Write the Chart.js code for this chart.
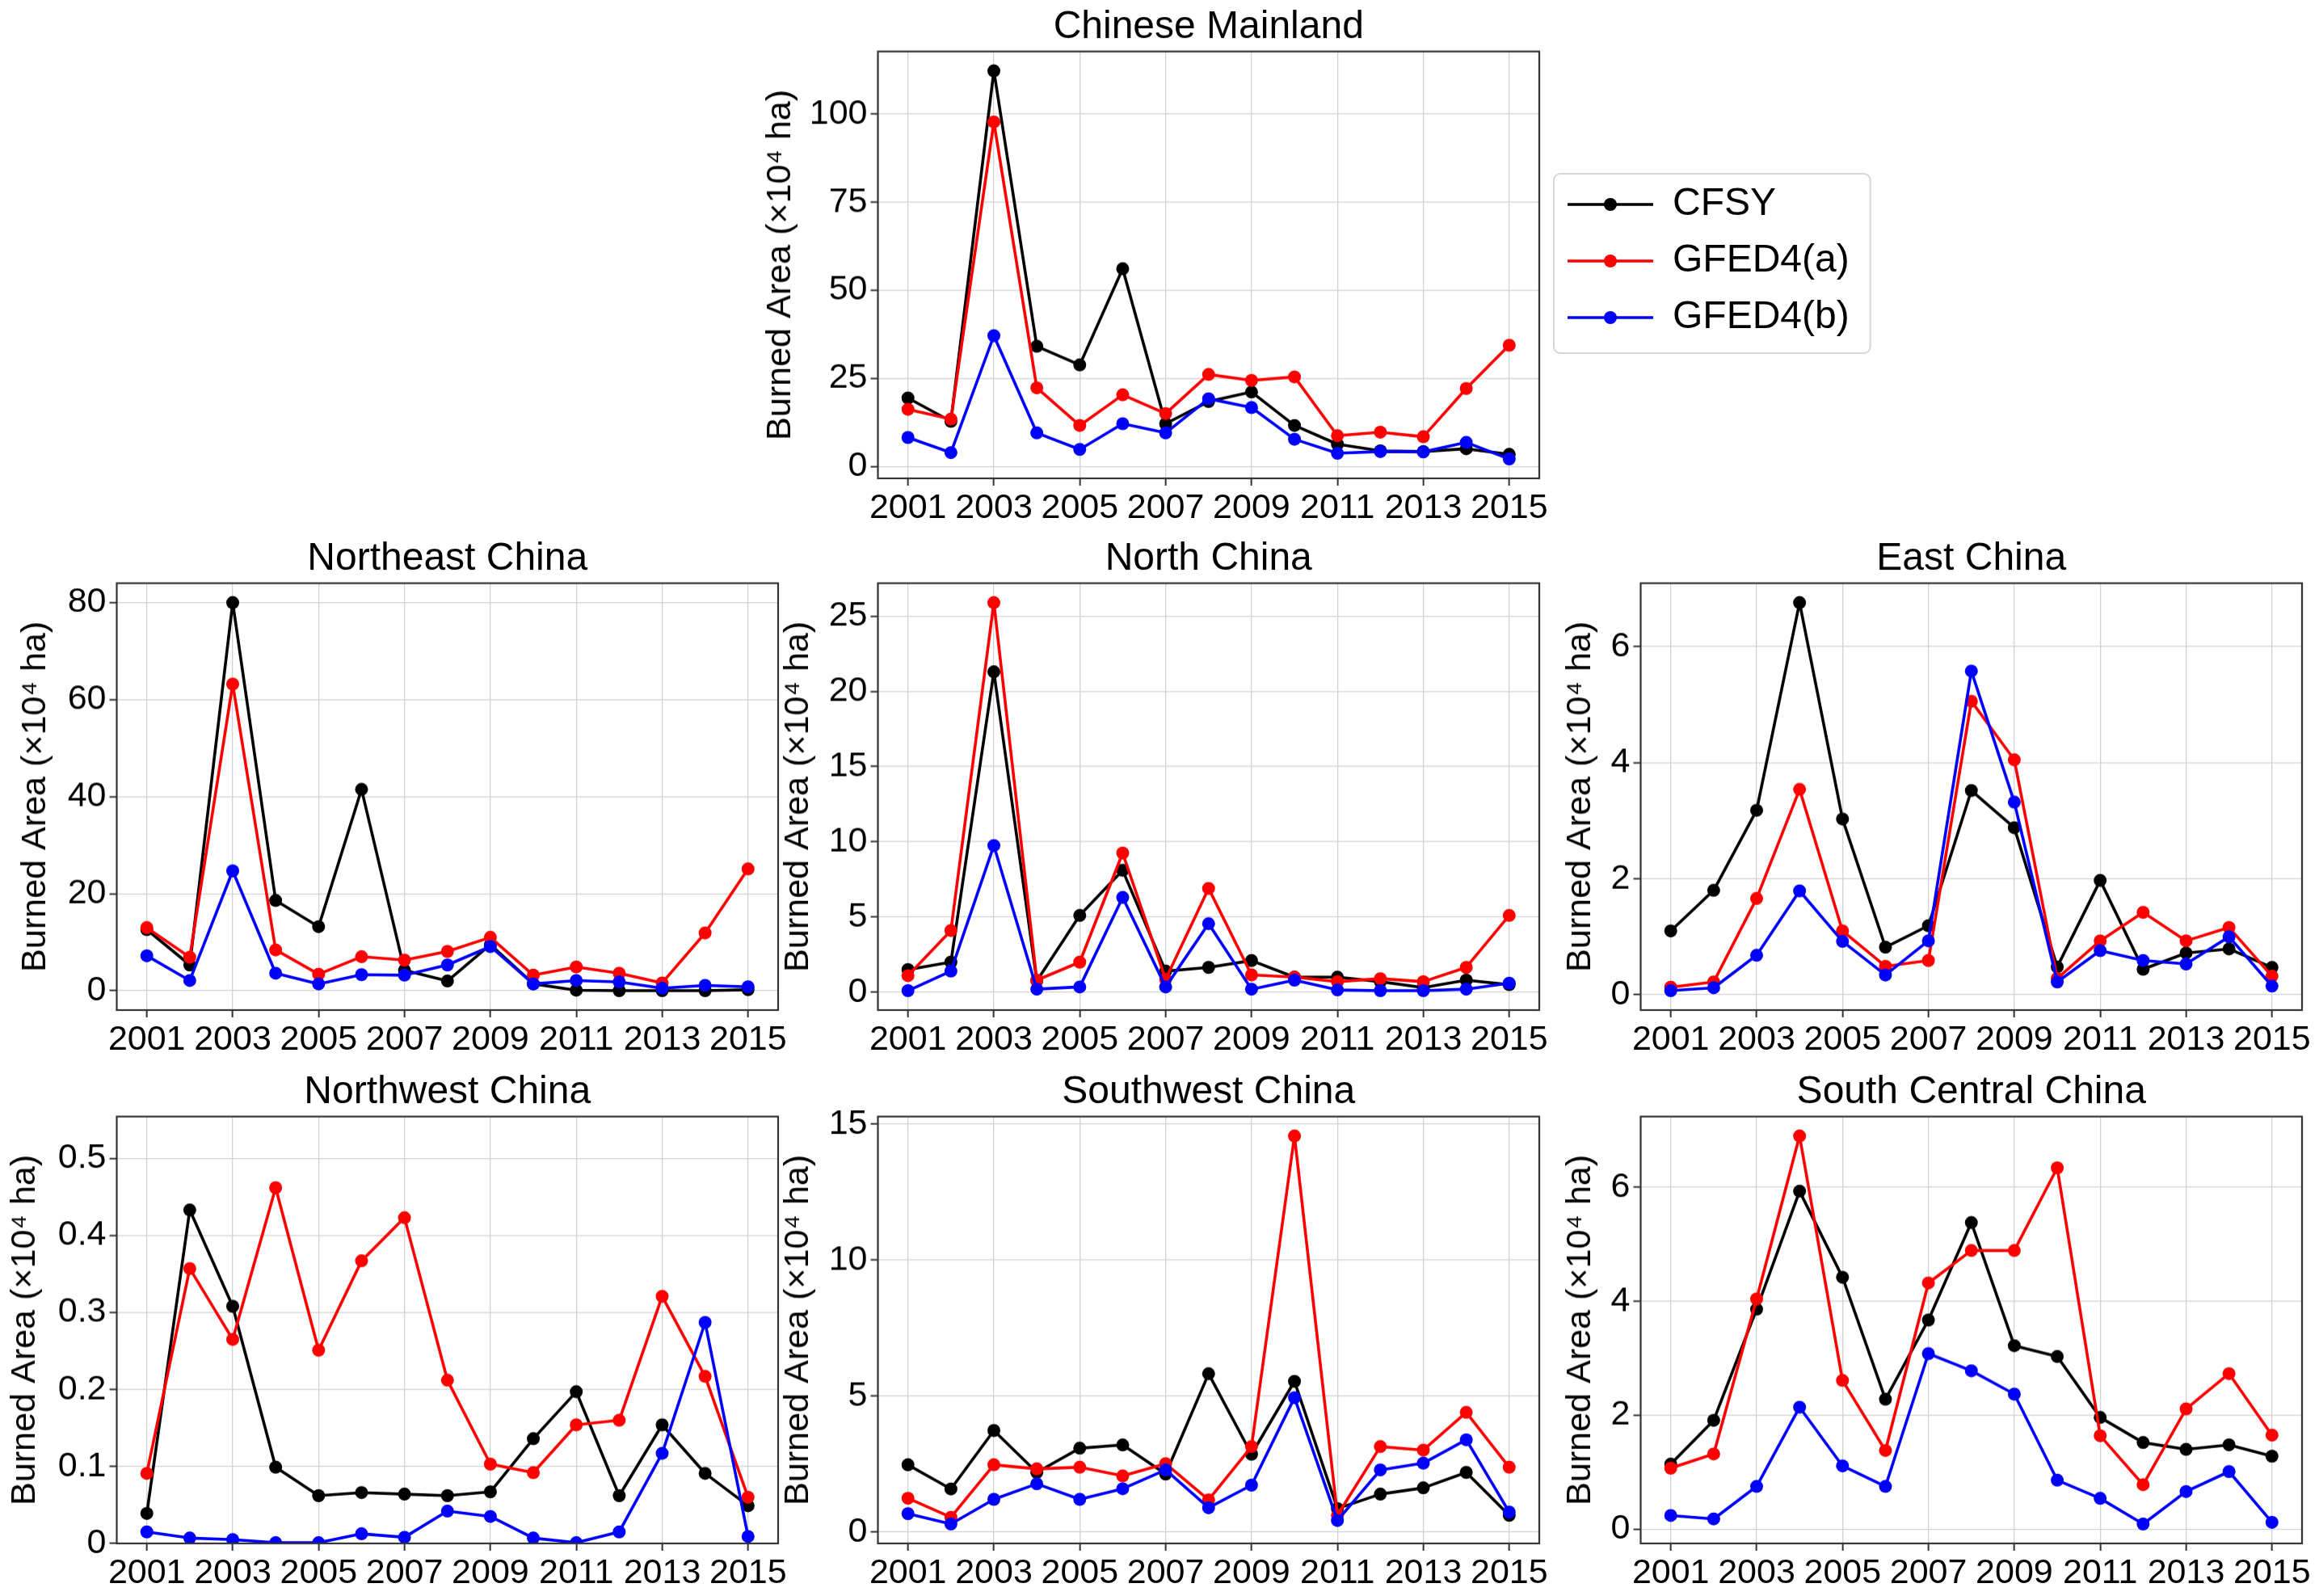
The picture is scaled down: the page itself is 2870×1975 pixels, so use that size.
<!DOCTYPE html>
<html>
<head>
<meta charset="utf-8">
<script src="https://cdn.jsdelivr.net/npm/chart.js@4.4.1/dist/chart.umd.min.js"></script>
<style>
  html, body { margin: 0; padding: 0; background: #fff; }
  body { width: 2870px; height: 1975px; position: relative; overflow: hidden; }
  .panel { position: absolute; }
</style>
</head>
<body>
<script>
// ---- data (unit: x10^4 ha) ----
const years = [2001, 2002, 2003, 2004, 2005, 2006, 2007, 2008, 2009, 2010, 2011, 2012, 2013, 2014, 2015];
const xTickYears = [2001, 2003, 2005, 2007, 2009, 2011, 2013, 2015];
const seriesNames = ["CFSY", "GFED4(a)", "GFED4(b)"];

const mainlandCFSY  = [19.4, 12.8, 112.3, 34.1, 28.8, 56.1, 12.1, 18.4, 21.1, 11.6, 6.3, 4.4, 4.2, 5.0, 3.4];
const mainlandGFEDa = [16.2, 13.4, 97.8, 22.3, 11.6, 20.3, 15.0, 26.1, 24.4, 25.4, 8.7, 9.7, 8.4, 22.1, 34.4];
const mainlandGFEDb = [8.2, 3.9, 37.1, 9.5, 4.8, 12.1, 9.5, 19.2, 16.7, 7.7, 3.7, 4.2, 4.1, 6.8, 2.1];
const mainlandTicks = [0, 25, 50, 75, 100];

const northeastCFSY  = [12.6, 5.3, 80.0, 18.6, 13.2, 41.5, 4.2, 2.0, 9.5, 1.4, 0.1, 0.0, 0.0, 0.0, 0.2];
const northeastGFEDa = [13.0, 6.9, 63.2, 8.4, 3.4, 7.0, 6.3, 8.1, 11.0, 3.2, 4.9, 3.6, 1.6, 11.9, 25.1];
const northeastGFEDb = [7.2, 2.1, 24.7, 3.6, 1.4, 3.3, 3.2, 5.3, 9.1, 1.4, 2.1, 1.8, 0.5, 1.1, 0.8];
const northeastTicks = [0, 20, 40, 60, 80];

const northCFSY  = [1.5, 2.0, 21.3, 0.75, 5.1, 8.1, 1.4, 1.65, 2.1, 1.0, 1.0, 0.7, 0.3, 0.8, 0.5];
const northGFEDa = [1.1, 4.1, 25.9, 0.8, 2.0, 9.25, 0.85, 6.9, 1.15, 1.0, 0.7, 0.9, 0.7, 1.65, 5.1];
const northGFEDb = [0.1, 1.4, 9.75, 0.2, 0.35, 6.3, 0.35, 4.55, 0.2, 0.8, 0.15, 0.1, 0.1, 0.2, 0.6];
const northTicks = [0, 5, 10, 15, 20, 25];

const eastCFSY  = [1.1, 1.8, 3.18, 6.76, 3.03, 0.82, 1.19, 3.52, 2.88, 0.48, 1.97, 0.44, 0.72, 0.79, 0.47];
const eastGFEDa = [0.13, 0.22, 1.66, 3.54, 1.1, 0.49, 0.59, 5.06, 4.05, 0.28, 0.93, 1.42, 0.93, 1.16, 0.32];
const eastGFEDb = [0.07, 0.12, 0.68, 1.79, 0.92, 0.34, 0.93, 5.58, 3.32, 0.22, 0.76, 0.59, 0.53, 1.0, 0.15];
const eastTicks = [0, 2, 4, 6];

const northwestCFSY  = [0.039, 0.433, 0.308, 0.099, 0.062, 0.066, 0.064, 0.062, 0.067, 0.136, 0.197, 0.062, 0.154, 0.091, 0.049];
const northwestGFEDa = [0.091, 0.357, 0.265, 0.462, 0.251, 0.367, 0.423, 0.212, 0.103, 0.092, 0.154, 0.160, 0.321, 0.217, 0.060];
const northwestGFEDb = [0.015, 0.007, 0.005, 0.001, 0.001, 0.0125, 0.008, 0.042, 0.035, 0.007, 0.001, 0.015, 0.117, 0.287, 0.009];
const northwestTicks = [0, 0.1, 0.2, 0.3, 0.4, 0.5];

const southwestCFSY  = [2.47, 1.58, 3.73, 2.19, 3.08, 3.2, 2.13, 5.82, 2.86, 5.54, 0.86, 1.39, 1.62, 2.19, 0.61];
const southwestGFEDa = [1.24, 0.54, 2.47, 2.32, 2.38, 2.06, 2.51, 1.18, 3.14, 14.57, 0.61, 3.14, 3.01, 4.4, 2.38];
const southwestGFEDb = [0.67, 0.29, 1.2, 1.77, 1.2, 1.59, 2.28, 0.89, 1.72, 4.94, 0.42, 2.28, 2.53, 3.39, 0.73];
const southwestTicks = [0, 5, 10, 15];

const southCentralCFSY  = [1.14, 1.91, 3.86, 5.93, 4.42, 2.28, 3.67, 5.38, 3.22, 3.03, 1.96, 1.52, 1.40, 1.48, 1.28];
const southCentralGFEDa = [1.07, 1.32, 4.04, 6.9, 2.61, 1.38, 4.32, 4.89, 4.89, 6.34, 1.64, 0.78, 2.11, 2.73, 1.65];
const southCentralGFEDb = [0.24, 0.18, 0.75, 2.14, 1.11, 0.75, 3.08, 2.78, 2.37, 0.86, 0.54, 0.09, 0.66, 1.01, 0.12];
const southCentralTicks = [0, 2, 4, 6];

// ---- styles / layout ----
const seriesColors = ["#000000", "#ff0000", "#0000ff"];
const GRID = "#d2d2d2";
const PLOT_W = 819, PLOT_H = 528;
const TITLE_H = 48 * 1.2 + 4 + 1;
const X_AXIS_H = 70;
const PAD_R = 20;
const LINE_W = 3.6, DOT_R = 8;

const panels = [
  { title: "Chinese Mainland",    series: [mainlandCFSY, mainlandGFEDa, mainlandGFEDb], yTicks: mainlandTicks, left: 1086, top: 64, yTitleOff: 120 },
  { title: "Northeast China",     series: [northeastCFSY, northeastGFEDa, northeastGFEDb], yTicks: northeastTicks, left: 144, top: 722, yTitleOff: 100 },
  { title: "North China",         series: [northCFSY, northGFEDa, northGFEDb], yTicks: northTicks, left: 1086, top: 722, yTitleOff: 98 },
  { title: "East China",          series: [eastCFSY, eastGFEDa, eastGFEDb], yTicks: eastTicks, left: 2030, top: 722, yTitleOff: 74 },
  { title: "Northwest China",     series: [northwestCFSY, northwestGFEDa, northwestGFEDb], yTicks: northwestTicks, left: 144, top: 1382, yTitleOff: 113, zeroBottom: true },
  { title: "Southwest China",     series: [southwestCFSY, southwestGFEDa, southwestGFEDb], yTicks: southwestTicks, left: 1086, top: 1382, yTitleOff: 98 },
  { title: "South Central China", series: [southCentralCFSY, southCentralGFEDa, southCentralGFEDb], yTicks: southCentralTicks, left: 2030, top: 1382, yTitleOff: 74 }
];

Chart.defaults.font.family = "'Liberation Sans', Arial, sans-serif";
Chart.defaults.color = "#000";
Chart.defaults.animation = false;

// matplotlib-like 5% margins
function yLimits(p) {
  const all = p.series.flat();
  const lo = Math.min(...all), hi = Math.max(...all);
  if (p.zeroBottom) return [0, hi * 1.2];
  const m = (hi - lo) * 0.05;
  return [lo - m, hi + m];
}
const xSpan = years[years.length - 1] - years[0];
const xMin = years[0] - 0.05 * xSpan, xMax = years[years.length - 1] + 0.05 * xSpan;

const framePlugin = {
  id: "frame",
  afterDraw(chart) {
    const { ctx, chartArea: a } = chart;
    ctx.save();
    ctx.strokeStyle = "#333";
    ctx.lineWidth = 2.2;
    ctx.strokeRect(a.left, a.top, a.right - a.left, a.bottom - a.top);
    ctx.restore();
  }
};

// marker dot on each legend line + rounded frame round the legend
const legendBoxPlugin = {
  id: "legendBox",
  afterDraw(chart) {
    const lg = chart.legend;
    if (!lg || !lg.legendHitBoxes || !lg.legendHitBoxes.length) return;
    const ctx = chart.ctx;
    const boxes = lg.legendHitBoxes;
    const bw = lg.options.labels.pointStyleWidth;
    const fs = lg.options.labels.font.size;
    ctx.save();
    boxes.forEach((hb, i) => {
      ctx.beginPath();
      ctx.arc(hb.left + bw / 2, hb.top + fs / 2, DOT_R, 0, Math.PI * 2);
      ctx.fillStyle = lg.legendItems[i].strokeStyle;
      ctx.fill();
    });
    const last = boxes[boxes.length - 1];
    const x0 = boxes[0].left - 17, y0 = boxes[0].top - 14;
    const x1 = Math.max(...boxes.map(b => b.left + b.width)) + 26;
    const y1 = last.top + last.height + 20;
    ctx.strokeStyle = "#d6d6d6";
    ctx.lineWidth = 2;
    ctx.beginPath();
    ctx.roundRect(x0, y0, x1 - x0, y1 - y0, 8);
    ctx.stroke();
    ctx.restore();
  }
};

function gridOpts() {
  return {
    color: GRID, lineWidth: 1.3, borderDash: [8, 5],
    tickColor: "#333", tickWidth: 2, tickLength: 9, tickBorderDash: []
  };
}

function addCanvas(left, top, w, h) {
  const div = document.createElement("div");
  div.className = "panel";
  div.style.cssText = `left:${left}px;top:${top}px;width:${w}px;height:${h}px;`;
  const canvas = document.createElement("canvas");
  canvas.width = w; canvas.height = h;
  canvas.style.width = w + "px"; canvas.style.height = h + "px";
  div.appendChild(canvas);
  document.body.appendChild(div);
  return canvas;
}

function makePanel(p) {
  const yAxisW = p.yTitleOff + 21.5;
  const w = yAxisW + PLOT_W + PAD_R;
  const h = TITLE_H + PLOT_H + X_AXIS_H;
  const canvas = addCanvas(p.left - yAxisW, p.top - TITLE_H, w, h);
  const [yMin, yMax] = yLimits(p);

  return new Chart(canvas, {
    type: "line",
    data: {
      datasets: p.series.map((vals, i) => ({
        label: seriesNames[i],
        data: years.map((yr, j) => ({ x: yr, y: vals[j] })),
        borderColor: seriesColors[i],
        backgroundColor: seriesColors[i],
        pointBackgroundColor: seriesColors[i],
        pointBorderColor: seriesColors[i],
        borderWidth: LINE_W,
        borderJoinStyle: "round",
        borderCapStyle: "round",
        pointRadius: DOT_R,
        pointBorderWidth: 0,
        tension: 0,
        order: 3 - i
      }))
    },
    options: {
      responsive: false,
      devicePixelRatio: 1,
      events: [],
      layout: { padding: { left: 0, right: PAD_R, top: 0, bottom: 0 } },
      scales: {
        x: {
          type: "linear", min: xMin, max: xMax, bounds: "data",
          afterBuildTicks: s => { s.ticks = xTickYears.map(v => ({ value: v })); },
          afterFit: s => { s.height = X_AXIS_H; },
          ticks: { font: { size: 43 }, padding: 2, autoSkip: false, minRotation: 0, maxRotation: 0, callback: v => String(v) },
          grid: gridOpts(),
          border: { display: false }
        },
        y: {
          type: "linear", min: yMin, max: yMax, bounds: "data",
          afterBuildTicks: s => { s.ticks = p.yTicks.map(v => ({ value: v })); },
          afterFit: s => { s.width = yAxisW; },
          ticks: { font: { size: 43 }, padding: 4, callback: v => String(v) },
          grid: gridOpts(),
          border: { display: false },
          title: { display: true, text: "Burned Area (×10⁴ ha)", font: { size: 43, lineHeight: 1 }, padding: { top: 0, bottom: 0 } }
        }
      },
      plugins: {
        tooltip: { enabled: false },
        legend: { display: false },
        title: {
          display: true, text: p.title, fullSize: false, color: "#000",
          font: { size: 48, weight: "normal", lineHeight: 1.2 },
          padding: { top: 4, bottom: 1 }
        }
      }
    },
    plugins: [framePlugin]
  });
}

panels.forEach(makePanel);

// legend to the right of the "Chinese Mainland" panel
function makeLegend() {
  const labelPad = 22;
  const left = 1940 - labelPad;
  const canvas = addCanvas(left, 59, 1000, PLOT_H);
  new Chart(canvas, {
    type: "line",
    data: {
      datasets: seriesNames.map((name, i) => ({
        label: name, data: [], borderColor: seriesColors[i], backgroundColor: seriesColors[i], borderWidth: LINE_W
      }))
    },
    options: {
      responsive: false,
      devicePixelRatio: 1,
      events: [],
      layout: { padding: 0 },
      scales: { x: { display: false }, y: { display: false } },
      plugins: {
        tooltip: { enabled: false },
        title: { display: false },
        legend: {
          display: true, position: "left", align: "center",
          labels: {
            usePointStyle: true, pointStyleWidth: 106, padding: labelPad,
            color: "#000", font: { size: 48 },
            generateLabels: chart => chart.data.datasets.map((ds, i) => ({
              text: ds.label, datasetIndex: i, pointStyle: "line",
              strokeStyle: ds.borderColor, fillStyle: ds.borderColor,
              lineWidth: ds.borderWidth, hidden: false, fontColor: "#000"
            }))
          }
        }
      }
    },
    plugins: [legendBoxPlugin]
  });
}
makeLegend();
</script>
</body>
</html>
